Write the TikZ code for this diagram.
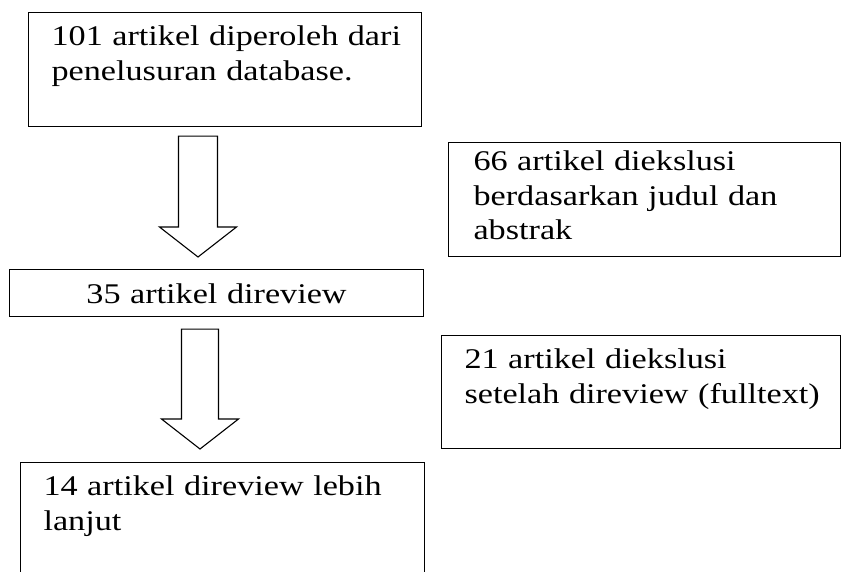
\documentclass[tikz,border=0pt]{standalone}
\usepackage{fontspec}
\setmainfont{Liberation Serif}[FakeStretch=1.2]
\usepackage{tikz}
\usetikzlibrary{positioning, calc}

\begin{document}
\begin{tikzpicture}[
    x=1pt, y=1pt,
    flowbox/.style={
        draw,
        line width=1.1pt,
        anchor=north west,
        inner sep=0pt,
        align=left,
        font=\fontsize{28.5}{34.5}\selectfont
    },
    indent/.style={execute at begin node={\leftskip=#1}},
    indent/.default=23pt,
    blockarrow/.style={draw, line width=1.1pt, fill=white, line join=miter}
]
\clip (0,0) rectangle (841,571);
\useasboundingbox (0,0) rectangle (841,571);

% === left column ===
\node[flowbox, indent, text width=393pt, text height=33pt, text depth=81pt] (art101) at (28,559)
    {101 artikel diperoleh dari\\penelusuran database.};
\node[flowbox, align=center, text width=414pt, text height=34pt, text depth=13pt] (art35) at (9,302)
    {35 artikel direview};
\node[flowbox, indent, text width=404pt, text height=33pt, text depth=130pt] (art14) at (20,109)
    {14 artikel direview lebih\\lanjut};

% === excluded (right column) ===
\node[flowbox, indent=25pt, text width=392pt, text height=28pt, text depth=86pt] (ex66) at (448,429)
    {66 artikel diekslusi\\berdasarkan judul dan\\abstrak};
\node[flowbox, indent, text width=399pt, text height=33pt, text depth=80pt] (ex21) at (441,236)
    {21 artikel diekslusi\\setelah direview (fulltext)};

% === Arrows ===
\coordinate (a1top) at ($(art101.south west)+(170,-9)$);
\coordinate (a1tip) at ($(art35.north west)+(189,12)$);
\draw[blockarrow] let \p1=(a1top), \p2=(a1tip) in
    (\x1-19.5pt,\y1) -- (\x1+19.5pt,\y1) -- (\x1+19.5pt,\y2+30pt) -- (\x1+38.5pt,\y2+30pt)
    -- (\x2,\y2) -- (\x1-38.5pt,\y2+30pt) -- (\x1-19.5pt,\y2+30pt) -- cycle;

\coordinate (a2top) at ($(art35.south west)+(191,-12)$);
\coordinate (a2tip) at ($(art14.north west)+(180,13)$);
\draw[blockarrow] let \p1=(a2top), \p2=(a2tip) in
    (\x1-18.5pt,\y1) -- (\x1+18.5pt,\y1) -- (\x1+18.5pt,\y2+30pt) -- (\x1+38.5pt,\y2+30pt)
    -- (\x2,\y2) -- (\x1-38.5pt,\y2+30pt) -- (\x1-18.5pt,\y2+30pt) -- cycle;

\end{tikzpicture}
\end{document}
